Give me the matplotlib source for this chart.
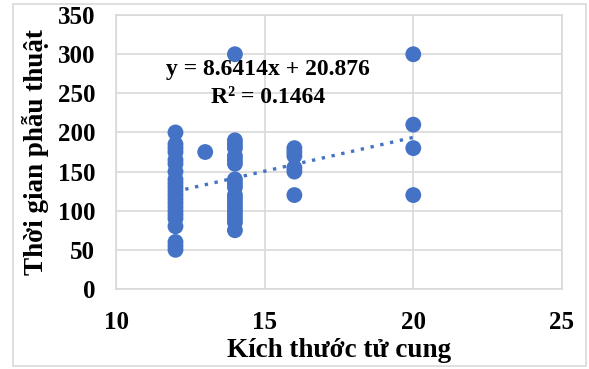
import matplotlib
matplotlib.use("Agg")
import matplotlib.pyplot as plt
from matplotlib.patches import Rectangle

# uterus size (x) vs operating time (y)
size_12 = [200, 185, 180, 175, 165, 160, 150, 140, 135, 130, 125, 120, 115,
           110, 105, 100, 95, 90, 80, 60, 55, 50]
size_13 = [175]
size_14 = [300, 190, 185, 180, 170, 165, 160, 140, 135, 130, 120, 115, 110,
           105, 100, 95, 90, 85, 75]
size_16 = [180, 175, 170, 155, 150, 120]
size_20 = [300, 210, 180, 120]
groups = {12: size_12, 13: size_13, 14: size_14, 16: size_16, 20: size_20}

slope, intercept, r2 = 8.6414, 20.876, 0.1464
x_ticks = [10, 15, 20, 25]
y_ticks = [0, 50, 100, 150, 200, 250, 300, 350]

BLUE = "#4472C4"
GRID = "#D9D9D9"
plt.rcParams["font.family"] = ["Liberation Serif", "DejaVu Serif"]
plt.rcParams["font.weight"] = "bold"

fig = plt.figure(figsize=(5.89, 3.69), dpi=100)
ax = fig.add_axes([0.197, 0.217, 0.757, 0.742])

xs, ys = [], []
for k, vals in groups.items():
    xs += [k] * len(vals)
    ys += vals
ax.scatter(xs, ys, s=130, color=BLUE, edgecolors="none", zorder=3)

x0, x1 = min(xs), max(xs)
ax.plot([x0, x1], [slope * x0 + intercept, slope * x1 + intercept],
        color=BLUE, lw=2.4, ls=(0, (1, 2)), zorder=4)

ax.text(15.1, 281, f"y = {slope}x + {intercept}", ha="center", va="center",
        fontsize=17, fontweight="bold", zorder=5)
ax.text(15.1, 245, f"R² = {r2}", ha="center", va="center",
        fontsize=17, fontweight="bold", zorder=5)

ax.set_xlim(10, 25)
ax.set_ylim(0, 350)
ax.set_xticks(x_ticks)
ax.set_yticks(y_ticks)
ax.tick_params(length=0, labelsize=18)
ax.tick_params(axis="x", pad=16)
ax.tick_params(axis="y", pad=15)
ax.grid(True, color=GRID, lw=1.2)
ax.set_axisbelow(True)
for sp in ax.spines.values():
    sp.set_color(GRID)
    sp.set_linewidth(1.2)

ax.set_xlabel("Kích thước tử cung", fontsize=19.5, fontweight="bold", labelpad=3)
ax.set_ylabel("Thời gian phẫu thuật", fontsize=19.5, fontweight="bold", labelpad=6)

fig.patches.append(Rectangle((13 / 589, 3 / 369), 573 / 589, 362 / 369,
                             transform=fig.transFigure, fill=False,
                             edgecolor=GRID, lw=1.2))
fig.savefig("out.png", dpi=100)
